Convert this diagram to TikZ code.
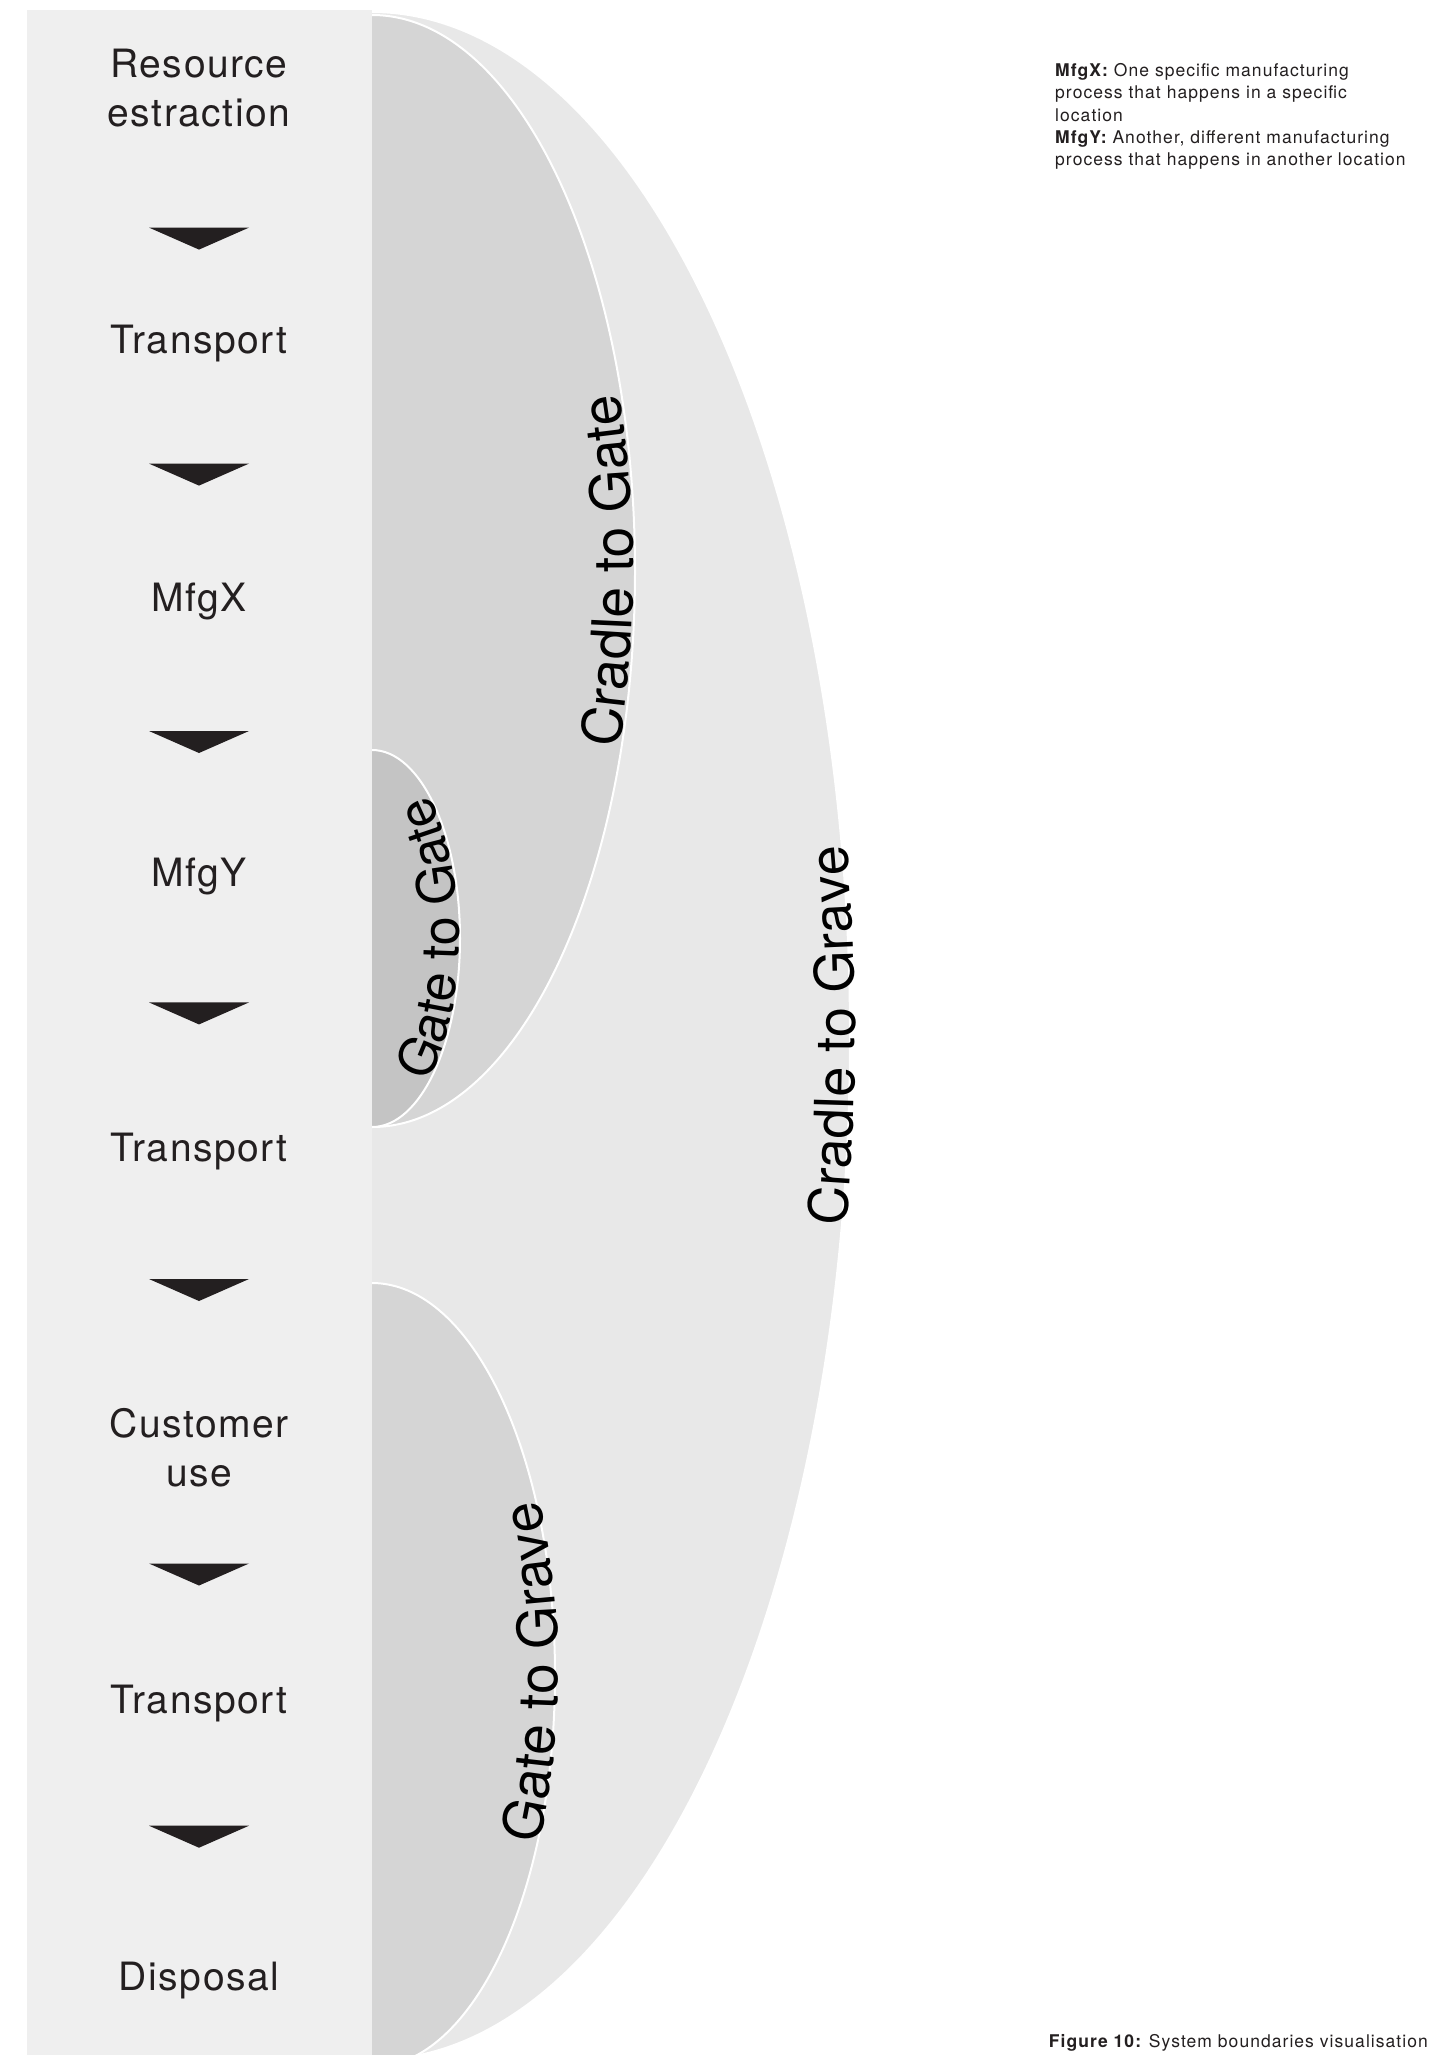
\documentclass[tikz,border=0pt]{standalone}
\usepackage{fontspec}
\setmainfont{TeX Gyre Heros}
\newfontfamily\stagefont{TeX Gyre Heros}[LetterSpace=4]
\newfontfamily\notefont{TeX Gyre Heros}[LetterSpace=6]
\newfontfamily\arcfont{TeX Gyre Heros}
\usetikzlibrary{decorations.text}

\definecolor{columnbg}{HTML}{EFEFEF}
\definecolor{gravebg}{HTML}{E8E8E8}
\definecolor{gatebg}{HTML}{D5D5D5}
\definecolor{innerbg}{HTML}{C4C4C4}
\definecolor{ink}{HTML}{231F20}

\begin{document}
\begin{tikzpicture}[x=1pt,y=-1pt,
  stage/.style={text=ink, font=\stagefont\fontsize{39}{49}\selectfont,
                align=center, anchor=base, inner sep=0pt},
  region/.style={draw=white, line width=2pt},
  flowtip/.style={fill=ink},
  note/.style={text=ink, font=\notefont\fontsize{17.5}{22}\selectfont,
               anchor=base west, inner sep=0pt},
]
% page
\fill[white] (0,0) rectangle (1446,2055);
\useasboundingbox (0,0) rectangle (1446,2055);
\clip (0,0) rectangle (1446,2055);

% system boundaries (right halves of ellipses beside the column)
\begin{scope}
  \clip (372,0) rectangle (1446,2055);
  \path[region, fill=gravebg] (372,1036) ellipse [x radius=478pt, y radius=1024pt];
  \path[region, fill=gatebg]  (372,571)  ellipse [x radius=263pt, y radius=556pt];
  \path[region, fill=innerbg] (372,938.5) ellipse [x radius=88pt, y radius=188.5pt];
  \path[region, fill=gatebg]  (372,1675) ellipse [x radius=183pt, y radius=392pt];
\end{scope}

% boundary labels following the arcs
\path[decorate, decoration={text along path, text align=center, raise=2pt,
      text={|\arcfont\fontsize{55}{55}\selectfont|Cradle to Gate}}]
  ([shift={(-60:263pt and 556pt)}]372,571)
  arc[start angle=-60, end angle=60, x radius=263pt, y radius=556pt];
\path[decorate, decoration={text along path, text align=center, raise=1pt,
      text={|\arcfont\fontsize{52}{52}\selectfont|Gate to Gate}}]
  ([shift={(-75:88pt and 188.5pt)}]372,938.5)
  arc[start angle=-75, end angle=75, x radius=88pt, y radius=188.5pt];
\path[decorate, decoration={text along path, text align=center, raise=-5pt,
      text={|\arcfont\fontsize{54}{54}\selectfont|Cradle to Grave}}]
  ([shift={(-40:478pt and 1024pt)}]372,1036)
  arc[start angle=-40, end angle=40, x radius=478pt, y radius=1024pt];
\path[decorate, decoration={text along path, text align=center, raise=-3pt,
      text={|\arcfont\fontsize{55}{55}\selectfont|Gate to Grave}}]
  ([shift={(-60:183pt and 392pt)}]372,1672)
  arc[start angle=-60, end angle=60, x radius=183pt, y radius=392pt];

% life-cycle column
\fill[columnbg] (27,10) rectangle (372,2055);

\node[stage] (extract)   at (199,127)  {Resource\\estraction};
\node[stage] (transp1)   at (199,353)  {Transport};
\node[stage] (mfgx)      at (199,611)  {MfgX};
\node[stage] (mfgy)      at (199,886)  {MfgY};
\node[stage] (transp2)   at (199,1161) {Transport};
\node[stage] (custuse)   at (199,1486) {Customer\\use};
\node[stage] (transp3)   at (199,1713) {Transport};
\node[stage] (disposal)  at (199,1990) {Disposal};

% downward flow markers between the stages
\foreach \ym in {238.6,474.6,742,1013.4,1290,1574.5,1836.7}{
  \fill[flowtip] (149,\ym-11) -- (249,\ym-11) -- (199,\ym+11) -- cycle;
}

% legend
\node[note] (legx1) at (1055,76.5)  {\bfseries MfgX:\mdseries{} One specific manufacturing};
\node[note] (legx2) at (1055,98.8)  {process that happens in a specific};
\node[note] (legx3) at (1055,121.1) {location};
\node[note] (legy1) at (1055,143.4) {\bfseries MfgY:\mdseries{} Another, different manufacturing};
\node[note] (legy2) at (1055,165.7) {process that happens in another location};

% caption
\node[note, anchor=base east] (caption) at (1428,2047)
  {\bfseries Figure 10:\mdseries{} System boundaries visualisation};
\end{tikzpicture}
\end{document}
